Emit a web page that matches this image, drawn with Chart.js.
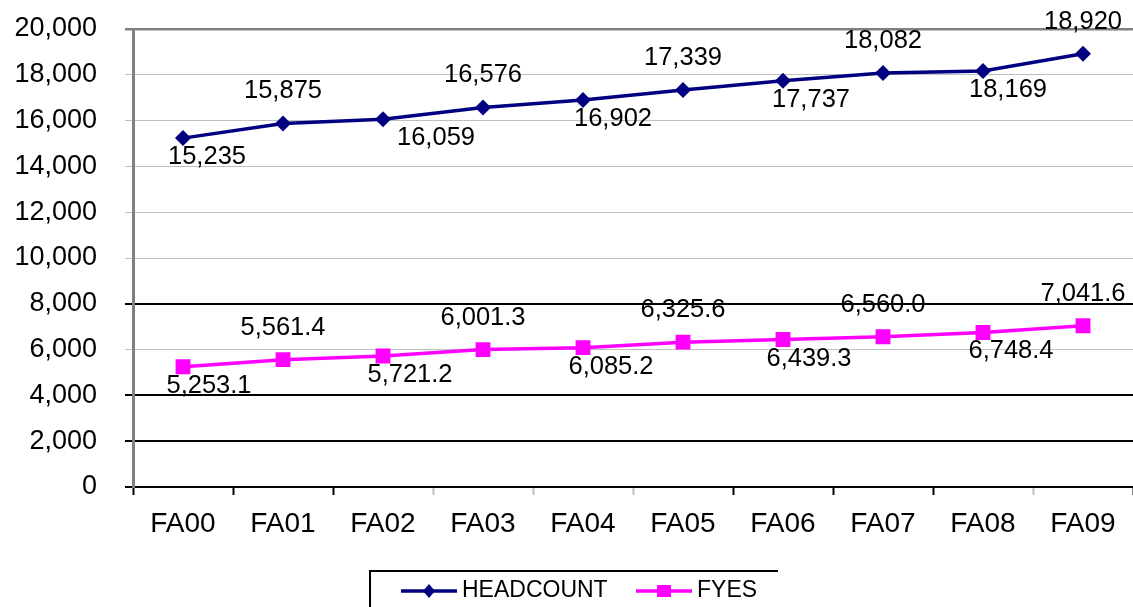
<!DOCTYPE html>
<html>
<head>
<meta charset="utf-8">
<script src="https://cdn.jsdelivr.net/npm/chart.js@4"></script>
<style>
  html, body { margin: 0; padding: 0; background: #ffffff; }
  #wrap { width: 1133px; height: 607px; position: relative; }
</style>
</head>
<body>
<div id="wrap"><canvas id="c" width="1133" height="607"></canvas></div>
<script>
// ---- data ----
const categories = ["FA00", "FA01", "FA02", "FA03", "FA04", "FA05", "FA06", "FA07", "FA08", "FA09"];
const headcount = [15235, 15875, 16059, 16576, 16902, 17339, 17737, 18082, 18169, 18920];
const fyes = [5253.1, 5561.4, 5721.2, 6001.3, 6085.2, 6325.6, 6439.3, 6560.0, 6748.4, 7041.6];
const seriesNames = ["HEADCOUNT", "FYES"];
const yTickValues = [0, 2000, 4000, 6000, 8000, 10000, 12000, 14000, 16000, 18000, 20000];

const fontFamily = "'Liberation Sans', Arial, Helvetica, sans-serif";

// label formatting per series
const fmtInt = v => v.toLocaleString('en-US', {maximumFractionDigits: 0});
const fmt1 = v => v.toLocaleString('en-US', {minimumFractionDigits: 1, maximumFractionDigits: 1});

// style: label placement (above/below) and horizontal nudges
const labelStyle = [
  { fmt: fmtInt, dxBelow: [24, 0, 53, 0, 30, 0, 28, 0, 25, 0] },
  { fmt: fmt1,   dxBelow: [26, 0, 27, 0, 28, 0, 26, 0, 28, 0] }
];

const dataLabelPlugin = {
  id: 'dataLabels',
  afterDatasetsDraw(chart) {
    const ctx = chart.ctx;
    ctx.save();
    ctx.font = "25.5px " + fontFamily;
    ctx.fillStyle = "#000000";
    ctx.textAlign = "center";
    ctx.textBaseline = "middle";
    chart.data.datasets.forEach((ds, di) => {
      const meta = chart.getDatasetMeta(di);
      const st = labelStyle[di];
      meta.data.forEach((pt, i) => {
        const below = (i % 2 === 0);
        const dx = below ? st.dxBelow[i] : 0;
        const dy = below ? 19 : -32;
        ctx.fillText(st.fmt(ds.data[i]), pt.x + dx, pt.y + dy);
      });
    });
    ctx.restore();
  }
};

const legendPlugin = {
  id: 'boxLegend',
  afterDraw(chart) {
    const ctx = chart.ctx;
    ctx.save();
    // box (top + left edges visible, cut off at bottom)
    ctx.strokeStyle = "#000000";
    ctx.lineWidth = 2;
    ctx.beginPath();
    ctx.moveTo(370, 620);
    ctx.lineTo(370, 571);
    ctx.lineTo(778, 571);
    ctx.stroke();

    const items = [
      { x0: 401, x1: 457, tx: 462 },
      { x0: 636, x1: 692, tx: 697 }
    ];
    const y = 591;
    chart.data.datasets.forEach((ds, di) => {
      const it = items[di];
      ctx.strokeStyle = ds.borderColor;
      ctx.lineWidth = 3.5;
      ctx.beginPath();
      ctx.moveTo(it.x0, y);
      ctx.lineTo(it.x1, y);
      ctx.stroke();
      const cx = (it.x0 + it.x1) / 2;
      ctx.fillStyle = ds.borderColor;
      ctx.beginPath();
      if (ds.pointStyle === 'rectRot') {
        ctx.moveTo(cx, y - 7); ctx.lineTo(cx + 6, y); ctx.lineTo(cx, y + 7); ctx.lineTo(cx - 6, y);
      } else {
        ctx.rect(cx - 7, y - 6, 14, 12);
      }
      ctx.closePath();
      ctx.fill();
      ctx.fillStyle = "#000000";
      ctx.font = "23px " + fontFamily;
      ctx.textAlign = "left";
      ctx.textBaseline = "middle";
      ctx.fillText(ds.label, it.tx, y);
    });
    ctx.restore();
  }
};

function gridColor(v) {
  if (v === 0 || v === 2000 || v === 4000 || v === 8000) return "#000000";
  if (v === 20000) return "#808080";
  return "#c0c0c0";
}
function gridWidth(v) {
  if (v === 0 || v === 2000 || v === 4000 || v === 8000) return 2;
  if (v === 20000) return 2.5;
  return 1;
}
const xTickColors = ["#000000", "#000000", "#000000", "#c0c0c0", "#c0c0c0", "#c0c0c0", "#000000", "#000000", "#000000", "#c0c0c0", "#c0c0c0"];

new Chart(document.getElementById('c'), {
  type: 'line',
  data: {
    labels: categories,
    datasets: [
      {
        label: seriesNames[0],
        data: headcount,
        borderColor: "#000080",
        backgroundColor: "#000080",
        borderWidth: 3.5,
        pointStyle: 'rectRot',
        pointRadius: 8,
        pointHoverRadius: 8,
        pointBorderWidth: 0,
        tension: 0
      },
      {
        label: seriesNames[1],
        data: fyes,
        borderColor: "#ff00ff",
        backgroundColor: "#ff00ff",
        borderWidth: 3.5,
        pointStyle: 'rect',
        pointRadius: 10.5,
        pointHoverRadius: 10.5,
        pointBorderWidth: 0,
        tension: 0
      }
    ]
  },
  options: {
    responsive: false,
    animation: false,
    events: [],
    layout: { autoPadding: false, padding: { top: 29, right: 0, bottom: 0, left: 0 } },
    plugins: {
      legend: { display: false },
      tooltip: { enabled: false },
      title: { display: false }
    },
    scales: {
      x: {
        offset: true,
        grid: {
          offset: true,
          drawOnChartArea: false,
          drawTicks: true,
          tickLength: 8,
          tickWidth: 2,
          tickColor: (ctx) => xTickColors[ctx.index] || "#000000"
        },
        border: { display: true, color: "#000000", width: 2 },
        ticks: {
          color: "#000000",
          font: { size: 28, family: fontFamily },
          padding: 12,
          maxRotation: 0,
          autoSkip: false
        },
        afterFit(scale) { scale.height = 120; scale.paddingLeft = 0; scale.paddingRight = 0; }
      },
      y: {
        min: 0,
        max: 20000,
        afterBuildTicks(scale) { scale.ticks = yTickValues.map(v => ({ value: v })); },
        grid: {
          color: (ctx) => gridColor(ctx.tick ? ctx.tick.value : 0),
          lineWidth: (ctx) => gridWidth(ctx.tick ? ctx.tick.value : 0),
          tickLength: 8
        },
        border: { display: true, color: "#808080", width: 3 },
        ticks: {
          color: "#000000",
          font: { size: 27, family: fontFamily },
          padding: 28,
          callback: (v) => Number(v).toLocaleString('en-US')
        },
        afterFit(scale) { scale.width = 133; scale.paddingTop = 0; scale.paddingBottom = 0; }
      }
    }
  },
  plugins: [dataLabelPlugin, legendPlugin]
});
</script>
</body>
</html>
